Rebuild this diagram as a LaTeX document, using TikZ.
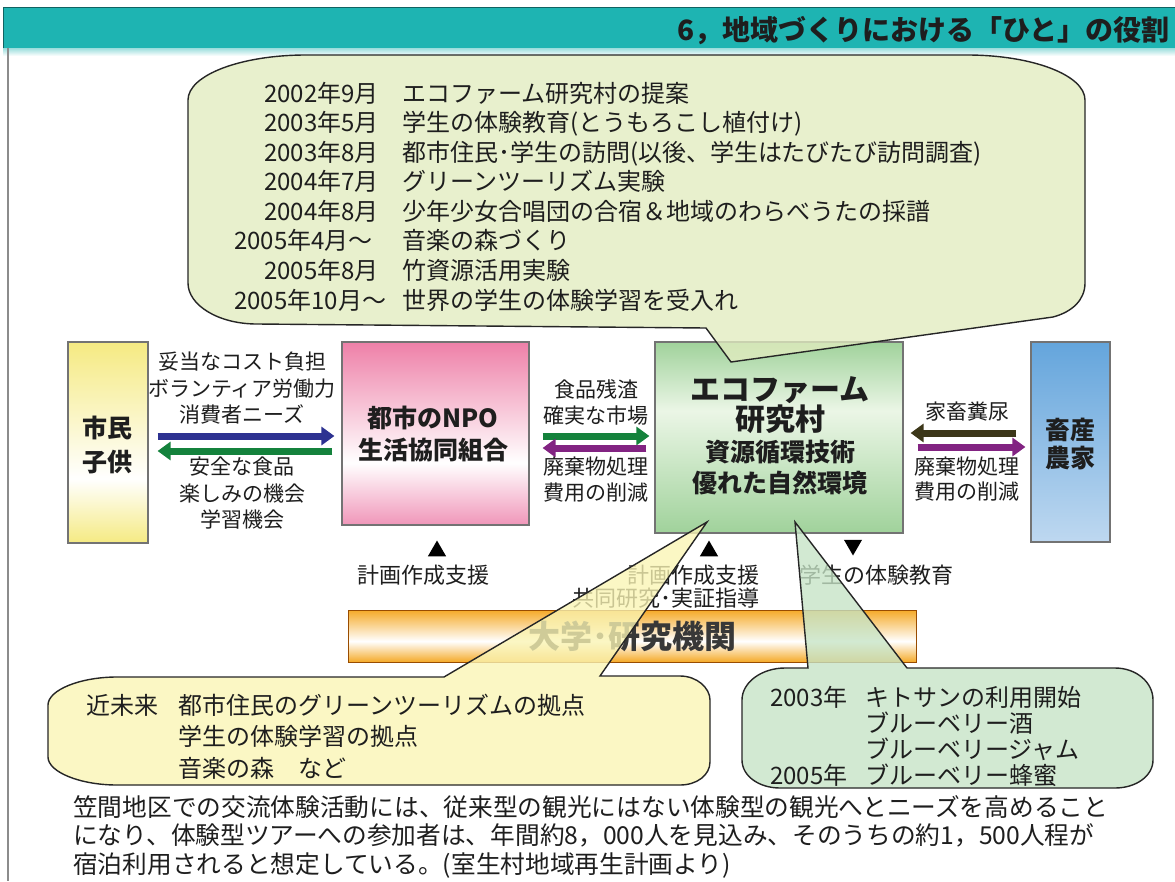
\documentclass[tikz,border=0pt]{standalone}
\usepackage{fontspec}
\setmainfont{Noto Sans CJK JP}
\usetikzlibrary{arrows.meta,shapes.geometric,calc}
\definecolor{tealbar}{RGB}{30,180,178}
\definecolor{txtc}{RGB}{30,30,30}
\definecolor{yelbox}{RGB}{245,234,130}
\definecolor{pinkbox}{RGB}{238,128,168}
\definecolor{pinklow}{RGB}{240,150,185}
\definecolor{greenbox}{RGB}{160,210,155}
\definecolor{greenlight}{RGB}{235,246,230}
\definecolor{bluebox}{RGB}{100,165,220}
\definecolor{bluelight}{RGB}{190,216,240}
\definecolor{orangebar}{RGB}{245,170,40}
\definecolor{arrblue}{RGB}{45,50,145}
\definecolor{arrgreen}{RGB}{20,130,60}
\definecolor{arrpurple}{RGB}{130,35,130}
\definecolor{arrolive}{RGB}{60,55,25}
\definecolor{callyg}{RGB}{226,236,192}
\definecolor{callyel}{RGB}{250,245,180}
\definecolor{callgrn}{RGB}{198,228,198}
\pgfdeclareverticalshading{shY}{100bp}{color(0bp)=(yelbox); color(25bp)=(yelbox); color(41bp)=(white); color(75bp)=(yelbox); color(100bp)=(yelbox)}
\pgfdeclareverticalshading{shP}{100bp}{color(0bp)=(pinklow); color(25bp)=(pinklow); color(42bp)=(white); color(75bp)=(pinkbox); color(100bp)=(pinkbox)}
\pgfdeclareverticalshading{shG}{100bp}{color(0bp)=(greenbox); color(25bp)=(greenbox); color(57bp)=(greenlight); color(75bp)=(greenbox); color(100bp)=(greenbox)}
\pgfdeclareverticalshading{shO}{100bp}{color(0bp)=(orangebar); color(25bp)=(orangebar); color(45bp)=(white); color(75bp)=(orangebar); color(100bp)=(orangebar)}
\newcommand{\fs}[2]{\fontsize{#1}{#2}\selectfont}
\tikzset{
  box/.style={draw=black!55, line width=1.2pt, inner sep=0pt},
  t/.style={inner sep=0pt, text=txtc},
  flow/.style={line width=7pt, -{Triangle[length=13pt,width=18pt]}},
  callout/.style={draw=black!85, line width=1.4pt, fill opacity=0.78},
  tri/.style={regular polygon, regular polygon sides=3, fill=black, minimum size=21pt, inner sep=0pt}
}
\begin{document}
\begin{tikzpicture}[x=1pt,y=-1pt]
\useasboundingbox (0,0) rectangle (1175,881);
\fill[white] (0,0) rectangle (1175,881);
% title bar and frame
\fill[tealbar] (3,7) rectangle (1175,48);
\draw[tealbar!55!black, line width=1pt] (3,48) -- (3,7) -- (1175,7);
\shade[top color=tealbar!45, bottom color=white] (3,48) rectangle (1175,56);
\draw[black!45, line width=1.5pt] (8,48) -- (8,881);
\node[t, anchor=base east, font=\bfseries\fs{28}{28}] (title) at (1170,40) {6，地域づくりにおける「ひと」の役割};

% boxes
\node[box, shading=shY, minimum width=80pt, minimum height=201pt] (shimin) at (108,442.5) {};
\node[t, align=center, font=\bfseries\fs{25}{34}] (shiminT) at (107,445) {市民\\子供};
\node[box, shading=shP, minimum width=187pt, minimum height=183pt] (npo) at (435.5,433.5) {};
\node[t, align=center, font=\bfseries\fs{25}{32}] (npoT) at (433,434) {都市のNPO\\生活協同組合};
\node[box, shading=shG, minimum width=248pt, minimum height=191pt] (eco) at (779,437.5) {};
\node[t, align=center, font=\bfseries\fs{30}{30}] (ecoT1) at (780,405) {エコファーム\\研究村};
\node[t, align=center, font=\bfseries\fs{25}{31}] (ecoT2) at (780,467.5) {資源循環技術\\優れた自然環境};
\node[box, top color=bluebox, bottom color=bluelight, minimum width=79pt, minimum height=200pt] (farm) at (1070.5,442) {};
\node[t, align=center, font=\bfseries\fs{25}{28}] (farmT) at (1070,444) {畜産\\農家};

% arrows
\draw[flow, arrblue] ($(shimin.east)+(9,-6.5)$) -- ($(npo.west)+(-7,2.5)$);
\draw[flow, arrgreen] ($(npo.west)+(-9,17.5)$) -- ($(shimin.east)+(9,8.5)$);
\draw[flow, arrgreen] ($(npo.east)+(13,2.5)$) -- ($(eco.west)+(-5,-1.5)$);
\draw[flow, arrpurple] ($(eco.west)+(-8,10.5)$) -- ($(npo.east)+(13,14.5)$);
\draw[flow, arrolive] ($(farm.west)+(-14,-9)$) -- ($(eco.east)+(7,-4.5)$);
\draw[flow, arrpurple] ($(eco.east)+(14,9.5)$) -- ($(farm.west)+(-5,5)$);

% arrow labels
\node[t, align=center, font=\fs{21}{26.5}] (lblA) at (242,388.5) {妥当なコスト負担\\ボランティア労働力\\消費者ニーズ};
\node[t, align=center, font=\fs{21}{26.5}] (lblB) at (242,493.5) {安全な食品\\楽しみの機会\\学習機会};
\node[t, align=center, font=\fs{21}{26}] (lblC) at (596,402) {食品残渣\\確実な市場};
\node[t, align=center, font=\fs{21}{26}] (lblD) at (596,480) {廃棄物処理\\費用の削減};
\node[t, align=center, font=\fs{21}{25}] (lblE) at (967,412) {家畜糞尿};
\node[t, align=center, font=\fs{21}{25}] (lblF) at (967,479.5) {廃棄物処理\\費用の削減};

% lower labels
\node[tri] (tri1) at (437,551) {};
\node[t, font=\fs{22}{23}] (plan1) at (423,575) {計画作成支援};
\node[tri] (tri2) at (709,551) {};
\node[tri, shape border rotate=180] (tri3) at (853,545) {};
\node[t, anchor=east, align=right, font=\fs{22}{23}] (plan2) at (760,586.5) {計画作成支援\\共同研究･実証指導};
\node[t, font=\fs{22}{23}] (stud) at (876,575) {学生の体験教育};

% university bar
\node[draw=orange!60!black, line width=1pt, shading=shO, minimum width=568pt, minimum height=52pt, inner sep=0pt, text=black!78, font=\bfseries\fs{32}{32}] (univ) at (632,636) {大学･研究機関};

% top callout
\path[callout, fill=callyg] (188,100) .. controls (188,75) and (241,55) .. (306,55)
  -- (967,55) .. controls (1032,55) and (1085,75) .. (1085,100)
  -- (1085,283) .. controls (1085,300) and (1072,312) .. (1053,317)
  -- (731,362) -- (706,328) -- (257,324)
  .. controls (218,324) and (188,305) .. (188,283) -- cycle;
\begin{scope}[every node/.style={t, font=\fs{24}{29.57}}]
\node[anchor=base east] (d1) at (379,102) {2002年9月};
\node[anchor=base east] (d2) at (379,131.6) {2003年5月};
\node[anchor=base east] (d3) at (379,161.1) {2003年8月};
\node[anchor=base east] (d4) at (379,190.7) {2004年7月};
\node[anchor=base east] (d5) at (379,220.3) {2004年8月};
\node[anchor=base west] (d6) at (234,249.9) {2005年4月～};
\node[anchor=base east] (d7) at (379,279.4) {2005年8月};
\node[anchor=base west] (d8) at (234,309) {2005年10月～};
\node[anchor=west, align=left] (events) at (402,196.5) {エコファーム研究村の提案\\学生の体験教育(とうもろこし植付け)\\都市住民･学生の訪問(以後、学生はたびたび訪問調査)\\グリーンツーリズム実験\\少年少女合唱団の合宿＆地域のわらべうたの採譜\\音楽の森づくり\\竹資源活用実験\\世界の学生の体験学習を受入れ};
\end{scope}

% lower-left callout
\path[callout, fill=callyel] (48,705) .. controls (48,690) and (80,677) .. (117,677)
  -- (444,677) -- (707,522) -- (600,676) -- (680,676)
  .. controls (697,676) and (710,688) .. (710,700) -- (710,762)
  .. controls (710,775) and (697,785) .. (680,785) -- (117,785)
  .. controls (80,785) and (48,772) .. (48,757) -- cycle;
\node[t, anchor=base west, font=\fs{24}{31.5}] (near) at (86,714) {近未来};
\node[t, anchor=west, align=left, font=\fs{24}{31.5}] (nearT) at (178,736.5) {都市住民のグリーンツーリズムの拠点\\学生の体験学習の拠点\\音楽の森　など};

% lower-right callout
\path[callout, fill=callgrn] (742,700) .. controls (742,682) and (762,668) .. (785,668)
  -- (808,668) -- (795,522) -- (907,668) -- (1115,668)
  .. controls (1136,668) and (1153,682) .. (1153,700) -- (1153,760)
  .. controls (1153,776) and (1136,788) .. (1115,788) -- (780,788)
  .. controls (759,788) and (742,776) .. (742,760) -- cycle;
\node[t, anchor=base west, font=\fs{24}{26}] (y2003) at (770,706) {2003年};
\node[t, anchor=base west, font=\fs{24}{26}] (y2005) at (770,784) {2005年};
\node[t, anchor=west, align=left, font=\fs{24}{26}] (prod) at (865,736) {キトサンの利用開始\\ブルーベリー酒\\ブルーベリージャム\\ブルーベリー蜂蜜};

% bottom paragraph
\node[t, anchor=west, align=left, font=\fs{24.7}{28.5}] (para) at (73,836.5) {笠間地区での交流体験活動には、従来型の観光にはない体験型の観光へとニーズを高めること\\になり、体験型ツアーへの参加者は、年間約8，000人を見込み、そのうちの約1，500人程が\\宿泊利用されると想定している。(室生村地域再生計画より)};
\end{tikzpicture}
\end{document}
